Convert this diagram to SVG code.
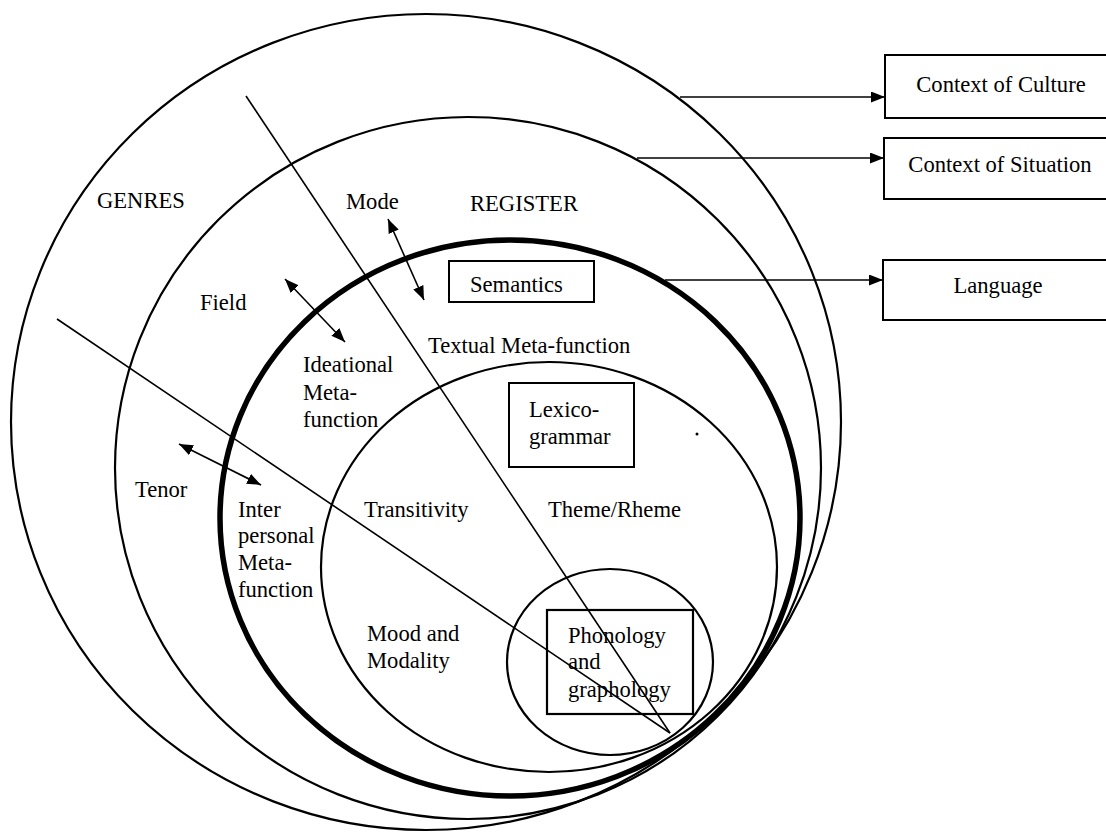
<svg xmlns="http://www.w3.org/2000/svg" width="1106" height="834" viewBox="0 0 1106 834">
<style>
  .ring{fill:none;stroke:#000;stroke-width:2.2}
  .thick{fill:none;stroke:#000;stroke-width:5.5}
  .box{fill:#fff;stroke:#000;stroke-width:2}
  .ln{fill:none;stroke:#000;stroke-width:1.6}
  .arr{fill:none;stroke:#000;stroke-width:1.6}
  text{font-family:"Liberation Serif","Times New Roman",serif;font-size:22.6px;fill:#000}
  .mid{text-anchor:middle}
</style>
<defs>
  <marker id="ah" viewBox="0 0 14 11" refX="14" refY="5.5" markerWidth="14" markerHeight="11" markerUnits="userSpaceOnUse" orient="auto-start-reverse">
    <path d="M0,0 L14,5.5 L0,11 z" fill="#000"/>
  </marker>
</defs>
<rect width="1106" height="834" fill="#fff"/>

<g id="ring-culture"><ellipse class="ring" cx="426" cy="422" rx="415" ry="408"/></g>
<g id="ring-situation"><ellipse class="ring" cx="468" cy="468" rx="353" ry="351"/></g>
<g id="ring-language"><ellipse class="thick" cx="510" cy="518" rx="290" ry="278"/></g>
<g id="ring-lexicogrammar"><ellipse class="ring" cx="549" cy="567" rx="228" ry="205"/></g>
<g id="ring-phonology"><ellipse class="ring" cx="610" cy="662" rx="103" ry="93"/></g>

<g id="connectors">
  <line class="ln" x1="246" y1="96" x2="670" y2="733"/>
  <line class="ln" x1="57" y1="319" x2="670" y2="733"/>
  <line class="arr" x1="680" y1="97" x2="885" y2="97" marker-end="url(#ah)"/>
  <line class="arr" x1="637" y1="158" x2="884" y2="158" marker-end="url(#ah)"/>
  <line class="arr" x1="665" y1="280" x2="883" y2="280" marker-end="url(#ah)"/>
  <line class="arr" x1="388" y1="219" x2="424" y2="300" marker-start="url(#ah)" marker-end="url(#ah)"/>
  <line class="arr" x1="285" y1="279" x2="345" y2="342" marker-start="url(#ah)" marker-end="url(#ah)"/>
  <line class="arr" x1="179" y1="444" x2="261" y2="485" marker-start="url(#ah)" marker-end="url(#ah)"/>
</g>

<g id="box-culture">
  <rect class="box" x="885" y="55" width="240" height="63"/>
  <text class="mid" x="1001" y="92">Context of Culture</text>
</g>
<g id="box-situation">
  <rect class="box" x="884" y="138" width="240" height="61"/>
  <text class="mid" x="1000" y="172">Context of Situation</text>
</g>
<g id="box-language">
  <rect class="box" x="883" y="260" width="240" height="60"/>
  <text class="mid" x="998" y="293">Language</text>
</g>

<g id="semantics">
  <rect class="box" x="449" y="261" width="145" height="41"/>
  <text x="470" y="292">Semantics</text>
</g>
<g id="lexicogrammar">
  <rect class="box" x="509" y="383" width="125" height="84"/>
  <text x="529" y="417">Lexico-</text>
  <text x="529" y="444">grammar</text>
</g>
<g id="phonology">
  <rect class="ring" x="547" y="610" width="146" height="104"/>
  <text x="568" y="643">Phonology</text>
  <text x="568" y="669">and</text>
  <text x="568" y="697">graphology</text>
</g>

<g id="labels">
  <text x="97" y="208">GENRES</text>
  <text x="346" y="209">Mode</text>
  <text x="470" y="211">REGISTER</text>
  <text x="200" y="310">Field</text>
  <text x="428" y="353">Textual Meta-function</text>
  <text x="303" y="372">Ideational</text>
  <text x="303" y="400">Meta-</text>
  <text x="303" y="427">function</text>
  <text x="135" y="497">Tenor</text>
  <text x="238" y="517">Inter</text>
  <text x="238" y="543">personal</text>
  <text x="238" y="570">Meta-</text>
  <text x="238" y="597">function</text>
  <text x="364" y="517">Transitivity</text>
  <text x="548" y="517">Theme/Rheme</text>
  <text x="367" y="641">Mood and</text>
  <text x="367" y="668">Modality</text>
</g>
<circle cx="697" cy="434" r="1.5" fill="#000"/>
</svg>
